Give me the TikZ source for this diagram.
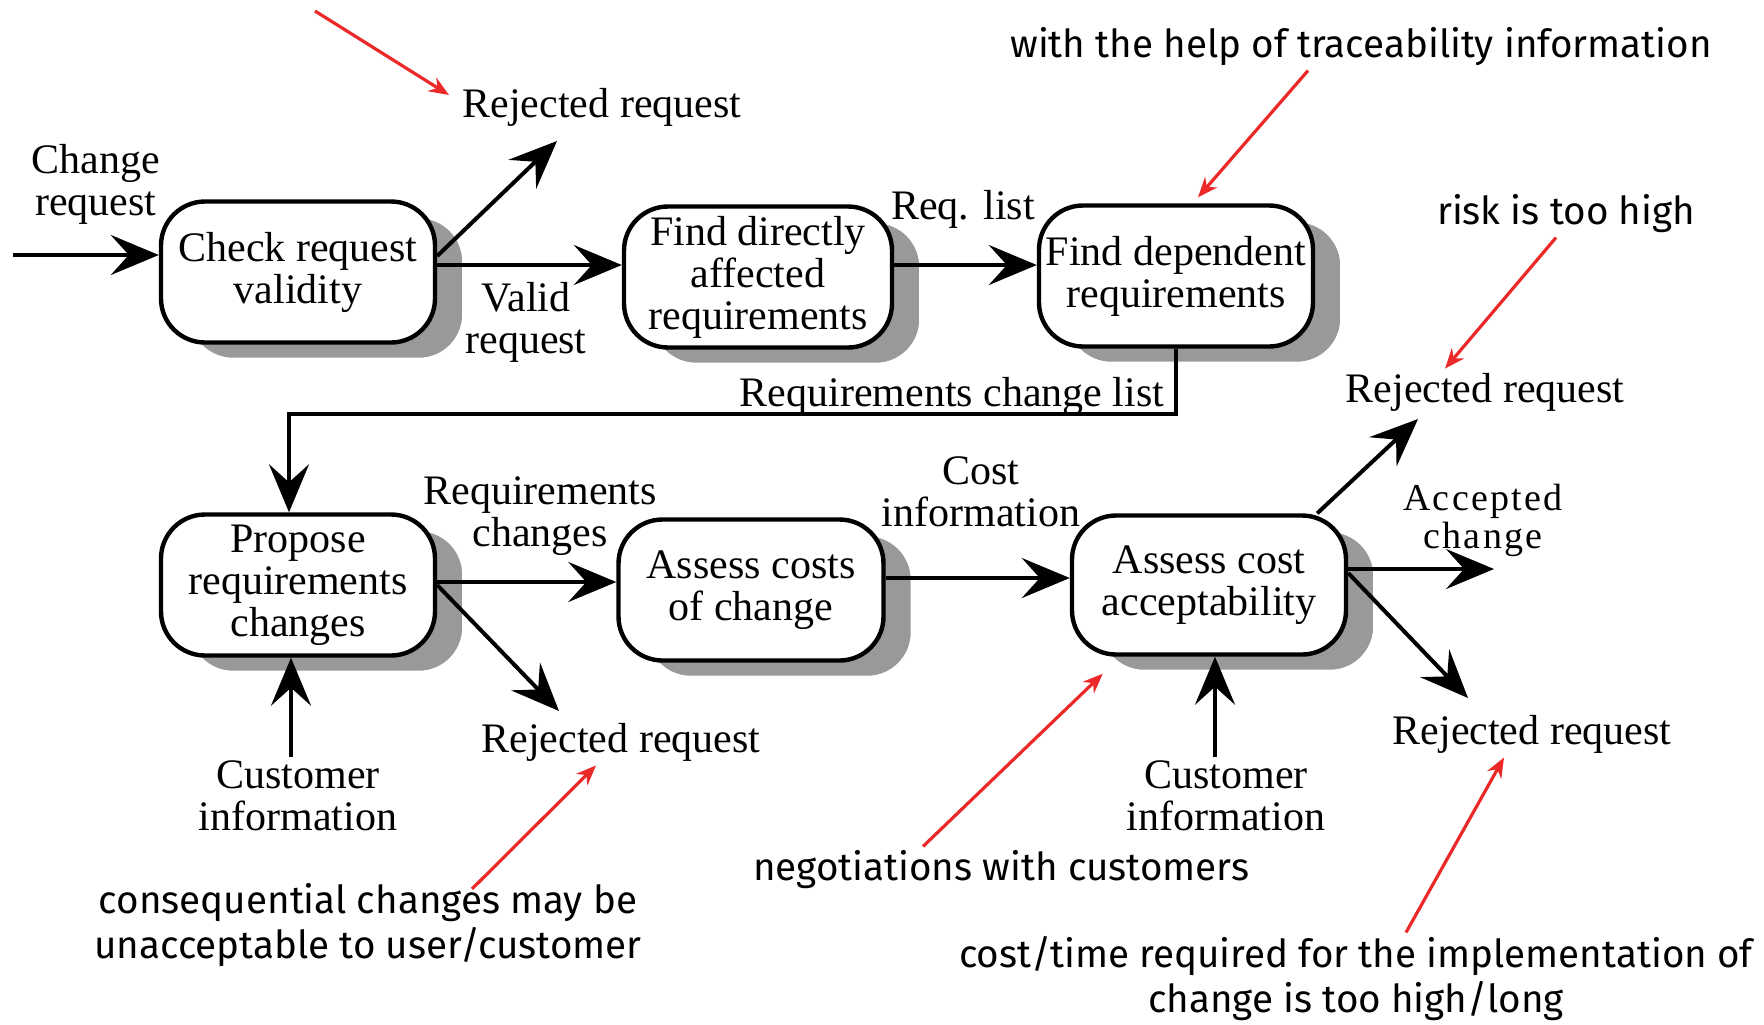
\documentclass[tikz,border=0pt]{standalone}
\usepackage{fontspec}
\setmainfont{Liberation Serif}
\newfontfamily\notefont{Fira Sans}
\usetikzlibrary{arrows.meta,shadows}

\newlength{\du}
\setlength{\du}{0.5pt}
\definecolor{shadowgray}{rgb}{0.600000, 0.600000, 0.600000}
\definecolor{notered}{rgb}{0.920000, 0.160000, 0.160000}

\tikzset{
  procbox/.style={draw, line width=2.2pt, rounded corners=22pt, fill=white,
    align=center, inner sep=1pt, minimum width=137pt, minimum height=70.5pt,
    font=\fontsize{21}{21}\selectfont,
    drop shadow={shadow xshift=14pt, shadow yshift=-8pt, opacity=1,
      fill=shadowgray, draw=white, line width=0.8pt}},
  lbl/.style={align=center, inner sep=2pt, font=\fontsize{21}{21}\selectfont},
  note/.style={align=center, inner sep=2pt, font=\notefont\fontsize{19.3}{22.5}\selectfont},
  flow/.style={line width=2pt, -{Stealth[length=24pt,width=20pt,inset=9pt]}},
  hint/.style={draw=notered, line width=1.6pt, -{Stealth[length=10pt,width=8pt,fill=notered]}},
}

\begin{document}
\begin{tikzpicture}[x=\du, y=-\du]
\useasboundingbox (0,0) rectangle (1764,1024);

% process boxes
\node[procbox] (check) at (298,272) {Check request\\validity};
\node[procbox, minimum width=134pt] (finddir) at (758,277) {Find directly\\affected\\requirements};
\node[procbox] (finddep) at (1176,276) {Find dependent\\requirements};
\node[procbox] (propose) at (298,585) {Propose\\requirements\\changes};
\node[procbox, minimum width=132.5pt] (costs) at (751,590) {Assess costs\\of change};
\node[procbox, minimum height=69.5pt] (accept) at (1209,585) {Assess cost\\acceptability};

% data labels
\node[lbl] (changereq) at (96,184) {Change\\request};
\node[lbl] (validreq) at (526,322) {Valid\\request};
\node[lbl] (rej1) at (602,107) {Rejected request};
\node[lbl] (reqlist) at (963,209) {Req. list};
\node[lbl] (rej2) at (1485,392) {Rejected request};
\node[lbl] (rclist) at (952,396) {Requirements change list};
\node[lbl] (reqchg) at (540,516) {Requirements\\changes};
\node[lbl] (rej3) at (621,742) {Rejected request};
\node[lbl] (custinfo1) at (298,796) {Customer\\information};
\node[lbl] (costinfo) at (981,492) {Cost\\information};
\node[lbl, font={\fontsize{19}{19}\selectfont\addfontfeatures{LetterSpace=6}}] (accchg) at (1483,520) {Accepted\\change};
\node[lbl] (rej4) at (1532,734) {Rejected request};
\node[lbl] (custinfo2) at (1226,796) {Customer\\information};

% free ends
\coordinate (crin) at (13,255);
\coordinate (rej1tip) at (557,141);
\coordinate (rcl) at (289,414);
\coordinate (rej3tip) at (559,711);
\coordinate (rej2tip) at (1418,419);
\coordinate (acctip) at (1494,569);
\coordinate (rej4tip) at (1468,698);
\coordinate (hintstart) at (315,11);
\coordinate (hinttip) at (449,95);

% flows
\draw[flow] (crin) -- (crin -| check.west);
\draw[flow] ([yshift=3.5pt]check.east) -- ([yshift=3.5pt]check.east -| finddir.west);
\draw[flow] ([yshift=8pt]check.east) -- (rej1tip);
\draw[flow] ([yshift=6pt]finddir.east) -- ([yshift=6pt]finddir.east -| finddep.west);
\draw[flow] (finddep.south) |- (rcl) -- (rcl |- propose.north);
\draw[flow] ([yshift=1.5pt]propose.east) -- ([yshift=1.5pt]propose.east -| costs.west);
\draw[flow] (propose.east) -- (rej3tip);
\draw[flow] ([xshift=-3.5pt]custinfo1.north) -- ([xshift=-3.5pt]custinfo1.north |- propose.south);
\draw[flow] ([yshift=6pt]costs.east) -- ([yshift=6pt]costs.east -| accept.west);
\draw[flow] ([xshift=-15.5pt]accept.north east) -- (rej2tip);
\draw[flow] ([yshift=8pt]accept.east) -- (acctip);
\draw[flow] ([yshift=6pt]accept.east) -- (rej4tip);
\draw[flow] ([xshift=-5.5pt]custinfo2.north) -- ([xshift=-5.5pt]custinfo2.north |- accept.south);

% annotations
\node[note] (helpnote) at (1361,47) {with the help of traceability information};
\node[note] (risknote) at (1566,214) {risk is too high};
\node[note] (consnote) at (368,925) {consequential changes may be\\unacceptable to user/customer};
\node[note] (negnote) at (1001,870) {negotiations with customers};
\node[note] (costnote) at (1356,979) {cost/time required for the implementation of\\change is too high/long};

\draw[hint] (hintstart) -- (hinttip);
\draw[hint] ([xshift=-26.5pt]helpnote.south) -- ([shift={(11pt,3pt)}]finddep.north);
\draw[hint] ([xshift=-5pt]risknote.south) -- ([xshift=-20pt]rej2.north);
\draw[hint] ([shift={(52pt,-5pt)}]consnote.north) -- ([xshift=-12.5pt]rej3.south);
\draw[hint] ([xshift=-39pt]negnote.north) -- ([shift={(16.5pt,-8.5pt)}]accept.south west);
\draw[hint] ([xshift=25pt]costnote.north) -- ([xshift=-14pt]rej4.south);
\end{tikzpicture}
\end{document}
